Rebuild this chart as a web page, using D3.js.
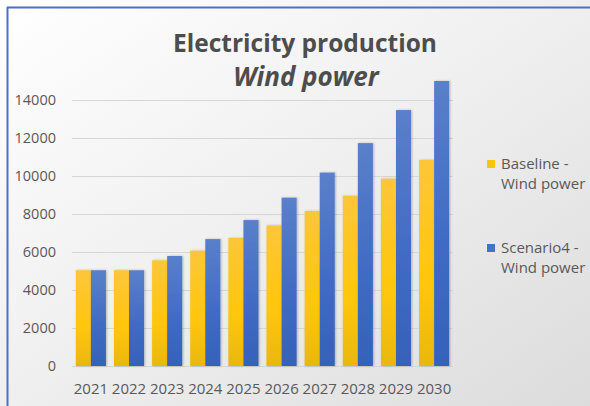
<!DOCTYPE html>
<html>
<head>
<meta charset="utf-8">
<script src="https://cdn.jsdelivr.net/npm/d3@7"></script>
<style>
  html, body { margin: 0; padding: 0; background: #fff; }
  svg { display: block; }
</style>
</head>
<body>
<svg id="chart" width="590" height="406"></svg>
<script>
// Annual wind power production, two scenarios
const years = ["2021", "2022", "2023", "2024", "2025", "2026", "2027", "2028", "2029", "2030"];
const baseline = [5040, 5040, 5560, 6070, 6740, 7400, 8160, 8960, 9860, 10840];
const scenario4 = [5040, 5040, 5790, 6680, 7680, 8860, 10180, 11730, 13470, 15000];
const yTicks = [0, 2000, 4000, 6000, 8000, 10000, 12000, 14000];
const seriesNames = ["Baseline - Wind power", "Scenario4 - Wind power"];

const W = 590, H = 406;
const svg = d3.select("#chart");
const defs = svg.append("defs");

// Background: soft white-to-grey sheen
const bg = defs.append("linearGradient").attr("id", "bg")
  .attr("x1", "0").attr("y1", "0").attr("x2", "1").attr("y2", "1");
bg.append("stop").attr("offset", "0").attr("stop-color", "#ffffff");
bg.append("stop").attr("offset", "0.5").attr("stop-color", "#efefef");
bg.append("stop").attr("offset", "1").attr("stop-color", "#dcdcdc");

const gY = defs.append("linearGradient").attr("id", "gY")
  .attr("x1", "0").attr("y1", "0").attr("x2", "0").attr("y2", "1");
gY.append("stop").attr("offset", "0").attr("stop-color", "#fcc63a");
gY.append("stop").attr("offset", "0.6").attr("stop-color", "#ffc60a");
gY.append("stop").attr("offset", "1").attr("stop-color", "#e9b70c");

const gB = defs.append("linearGradient").attr("id", "gB")
  .attr("x1", "0").attr("y1", "0").attr("x2", "0").attr("y2", "1");
gB.append("stop").attr("offset", "0").attr("stop-color", "#5a80c9");
gB.append("stop").attr("offset", "0.6").attr("stop-color", "#3f6ac4");
gB.append("stop").attr("offset", "1").attr("stop-color", "#3662b8");

const shadow = defs.append("filter").attr("id", "shadow")
  .attr("x", "-30%").attr("y", "-5%").attr("width", "160%").attr("height", "110%");
shadow.append("feDropShadow").attr("dx", 1).attr("dy", 0).attr("stdDeviation", 1)
  .attr("flood-color", "#000").attr("flood-opacity", 0.25);

svg.append("rect").attr("width", W).attr("height", H).attr("fill", "url(#bg)");

// Frame edges
svg.append("line").attr("x1", 7).attr("x2", W).attr("y1", 7.5).attr("y2", 7.5)
  .attr("stroke", "#4a72c4").attr("stroke-width", 2);
svg.append("line").attr("x1", 7.5).attr("x2", 7.5).attr("y1", 7).attr("y2", H)
  .attr("stroke", "#4a72c4").attr("stroke-width", 2);

const plot = { left: 72, right: 453, top: 100, bottom: 366 };

const x = d3.scaleBand().domain(years).range([plot.left, plot.right])
  .paddingInner(0.21).paddingOuter(0.1);
const x1 = d3.scaleBand().domain([0, 1]).range([0, x.bandwidth()]);
const y = d3.scaleLinear().domain([0, 14000]).range([plot.bottom, plot.top]);

const font = "Open Sans, Liberation Sans, sans-serif";
const textColor = "#595959";

// Gridlines
svg.append("g").selectAll("line").data(yTicks).join("line")
  .attr("x1", plot.left).attr("x2", plot.right)
  .attr("y1", d => Math.round(y(d)) + 0.5).attr("y2", d => Math.round(y(d)) + 0.5)
  .attr("stroke", "#d6d6d6").attr("stroke-width", 1);

// Y axis labels
const yAxis = d3.axisLeft(y).tickValues(yTicks).tickSize(0).tickPadding(0).tickFormat(d3.format("d"));
const yg = svg.append("g").attr("transform", `translate(56,0)`).call(yAxis);
yg.select(".domain").remove();
yg.selectAll("text").attr("font-family", font).attr("font-size", 14.5).attr("fill", textColor);

// X axis labels
const xAxis = d3.axisBottom(x).tickSize(0).tickPadding(0);
const xg = svg.append("g").attr("transform", `translate(0,383)`).call(xAxis);
xg.select(".domain").remove();
xg.selectAll("text").attr("font-family", font).attr("font-size", 15).attr("fill", textColor);

// Bars
const series = [baseline, scenario4];
const fills = ["url(#gY)", "url(#gB)"];
series.forEach((vals, si) => {
  svg.append("g").attr("filter", "url(#shadow)").selectAll("rect").data(vals).join("rect")
    .attr("x", (d, i) => x(years[i]) + x1(si))
    .attr("width", x1.bandwidth())
    .attr("y", d => y(d))
    .attr("height", d => y(0) - y(d))
    .attr("fill", fills[si]);
});

// Title
svg.append("text").attr("x", 305).attr("y", 52).attr("text-anchor", "middle")
  .attr("font-family", font).attr("font-weight", "bold").attr("font-size", 24.5)
  .attr("fill", "#4d4d4d").text("Electricity production");
svg.append("text").attr("x", 306).attr("y", 86).attr("text-anchor", "middle")
  .attr("font-family", font).attr("font-weight", "bold").attr("font-style", "italic")
  .attr("font-size", 26).attr("fill", "#4d4d4d").text("Wind power");

// Legend
const legendColors = ["#ffc20e", "#4472c4"];
const legendY = [164, 248];
seriesNames.forEach((name, i) => {
  const g = svg.append("g").attr("transform", `translate(487,${legendY[i]})`);
  g.append("rect").attr("x", 0).attr("y", -4).attr("width", 8).attr("height", 8)
    .attr("fill", legendColors[i]);
  const parts = name.split(" - ");
  const t = g.append("text").attr("font-family", font).attr("font-size", 15).attr("fill", textColor);
  t.append("tspan").attr("x", 14).attr("y", 5).text(parts[0] + " -");
  t.append("tspan").attr("x", 14).attr("y", 25).text(parts[1]);
});
</script>
</body>
</html>
